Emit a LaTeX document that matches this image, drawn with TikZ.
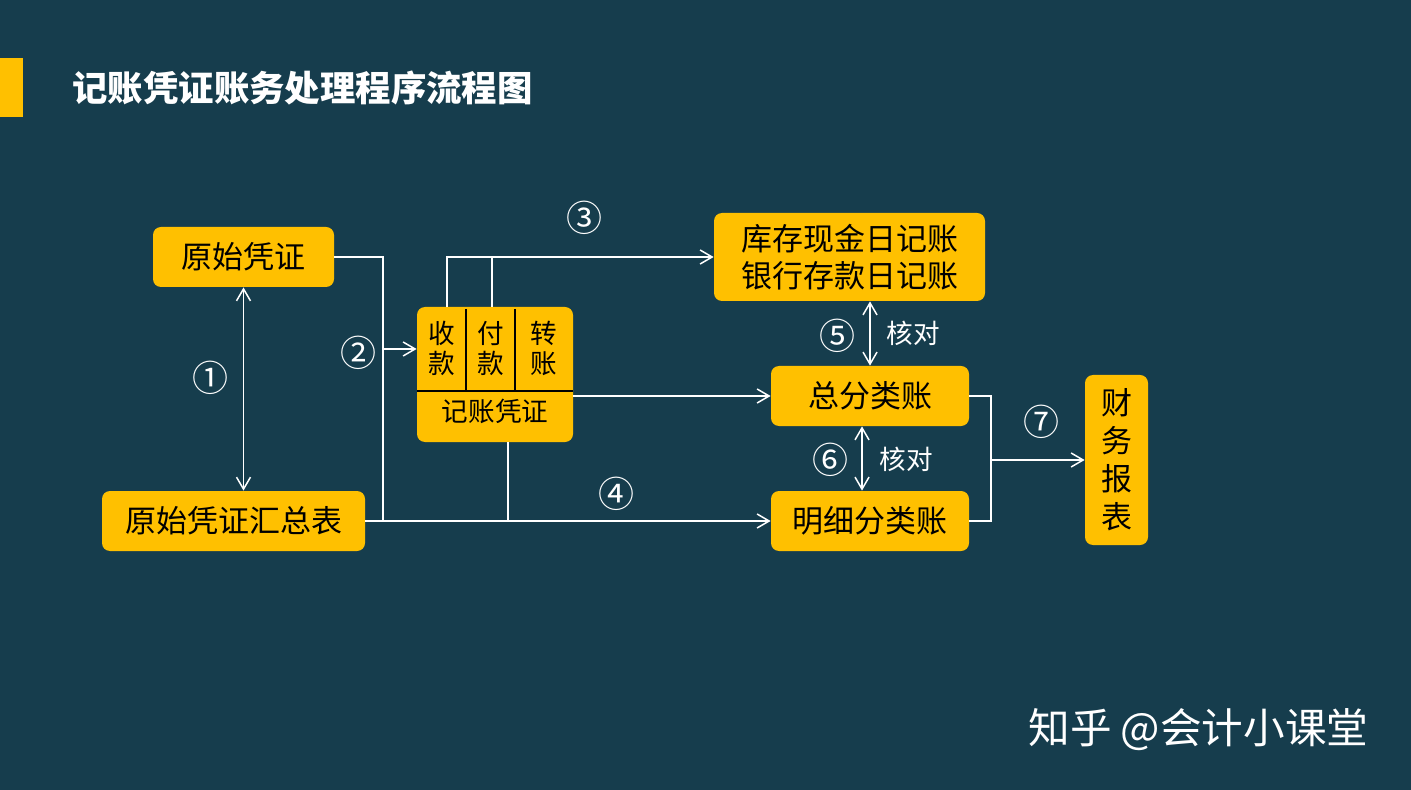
\documentclass[tikz,border=0pt]{standalone}
\usepackage{fontspec}
\setmainfont{Noto Sans CJK SC}
\usetikzlibrary{arrows.meta}
\definecolor{bgc}{HTML}{163D4D}
\definecolor{ylw}{HTML}{FFC000}
\tikzset{
  box/.style={fill=ylw, rounded corners=4pt, inner sep=0pt, text=black, font=\fontsize{15.5}{18.5}\selectfont, align=center, minimum height=30pt},
  wline/.style={draw=white, line width=0.75pt},
  arr/.style={wline, -{Straight Barb[length=6pt,width=7pt,line width=0.75pt]}},
  darr/.style={wline, {Straight Barb[length=6pt,width=7pt,line width=0.75pt]}-{Straight Barb[length=6pt,width=7pt,line width=0.75pt]}},
  num/.style={text=white, font=\fontsize{18}{18}\selectfont, inner sep=0pt},
  lbl/.style={text=white, font=\fontsize{13.3}{15}\selectfont, inner sep=0pt},
  tab/.style={text=black, font=\fontsize{13.3}{15}\selectfont, inner sep=0pt, align=center},
  sep/.style={draw=black, line width=1pt}
}
\begin{document}
\begin{tikzpicture}[x=0.5pt,y=-0.5pt]
\fill[bgc] (0,0) rectangle (1411,790);
\fill[ylw] (0,58) rectangle (23,117);
\node[anchor=west, text=white, inner sep=0pt, font=\bfseries\fontsize{17.7}{20}\selectfont] (title) at (72,88) {记账凭证账务处理程序流程图};

% boxes
\node[box, minimum width=90.5pt] (ys) at (243.5,257) {原始凭证};
\node[box, minimum width=131.5pt] (hz) at (233.5,521) {原始凭证汇总表};
\node[box, minimum width=135.5pt, minimum height=44pt] (kc) at (849.5,257) {库存现金日记账\\银行存款日记账};
\node[box, minimum width=99pt] (zf) at (870,396) {总分类账};
\node[box, minimum width=99pt] (mx) at (870,521) {明细分类账};
\node[box, minimum width=31.5pt, minimum height=85pt, font=\fontsize{15.5}{19}\selectfont] (cw) at (1116.5,460) {财\\务\\报\\表};

% compound voucher box
\node[box, minimum width=78pt, minimum height=67.5pt] (vch) at (495,374.5) {};
\draw[sep] (417,391) -- (573,391);
\draw[sep] (466,309) -- (466,391);
\draw[sep] (515,309) -- (515,391);
\node[tab] (sk) at (442,348) {收\\款};
\node[tab] (fk) at (491,348) {付\\款};
\node[tab] (zz) at (544,348) {转\\账};
\node[tab] (jz) at (495,411) {记账凭证};

% coordinates
\coordinate (j2) at (383,349);
\coordinate (t1) at (447,307);
\coordinate (t2) at (492,307);
\coordinate (vb) at (508,442);
\coordinate (j7) at (991,460);

% connectors
\draw[darr] (ys.south) -- (ys.south |- hz.north);
\draw[wline] (ys.east) -| (j2) |- (hz.east);
\draw[arr] (j2) -- (j2 -| vch.west);
\draw[arr] (t1) |- (kc.west);
\draw[wline] (t2) -- (t2 |- kc.west);
\draw[arr] (zf.west -| vch.east) -- (zf.west);
\draw[arr] (hz.east) -- (mx.west);
\draw[wline] (vb) -- (vb |- mx.west);
\draw[darr] (zf.north |- kc.south) -- (zf.north);
\draw[darr] ([xshift=-4pt]zf.south) -- ([xshift=-4pt]mx.north);
\draw[wline] (zf.east) -| (j7) |- (mx.east);
\draw[arr] (j7) -- (j7 -| cw.west);

% labels
\node[num] (n1) at (210,378) {①};
\node[num] (n2) at (358,353) {②};
\node[num] (n3) at (584,218) {③};
\node[num] (n4) at (616,494) {④};
\node[num] (n5) at (837,336) {⑤};
\node[num] (n6) at (830,460) {⑥};
\node[num] (n7) at (1041,422) {⑦};
\node[lbl] (h1) at (913,333) {核对};
\node[lbl] (h2) at (906,459) {核对};

\node[anchor=west, text=white, inner sep=0pt, font=\fontsize{20.8}{22}\selectfont] (wm) at (1028,730) {知乎 @会计小课堂};
\end{tikzpicture}
\end{document}
